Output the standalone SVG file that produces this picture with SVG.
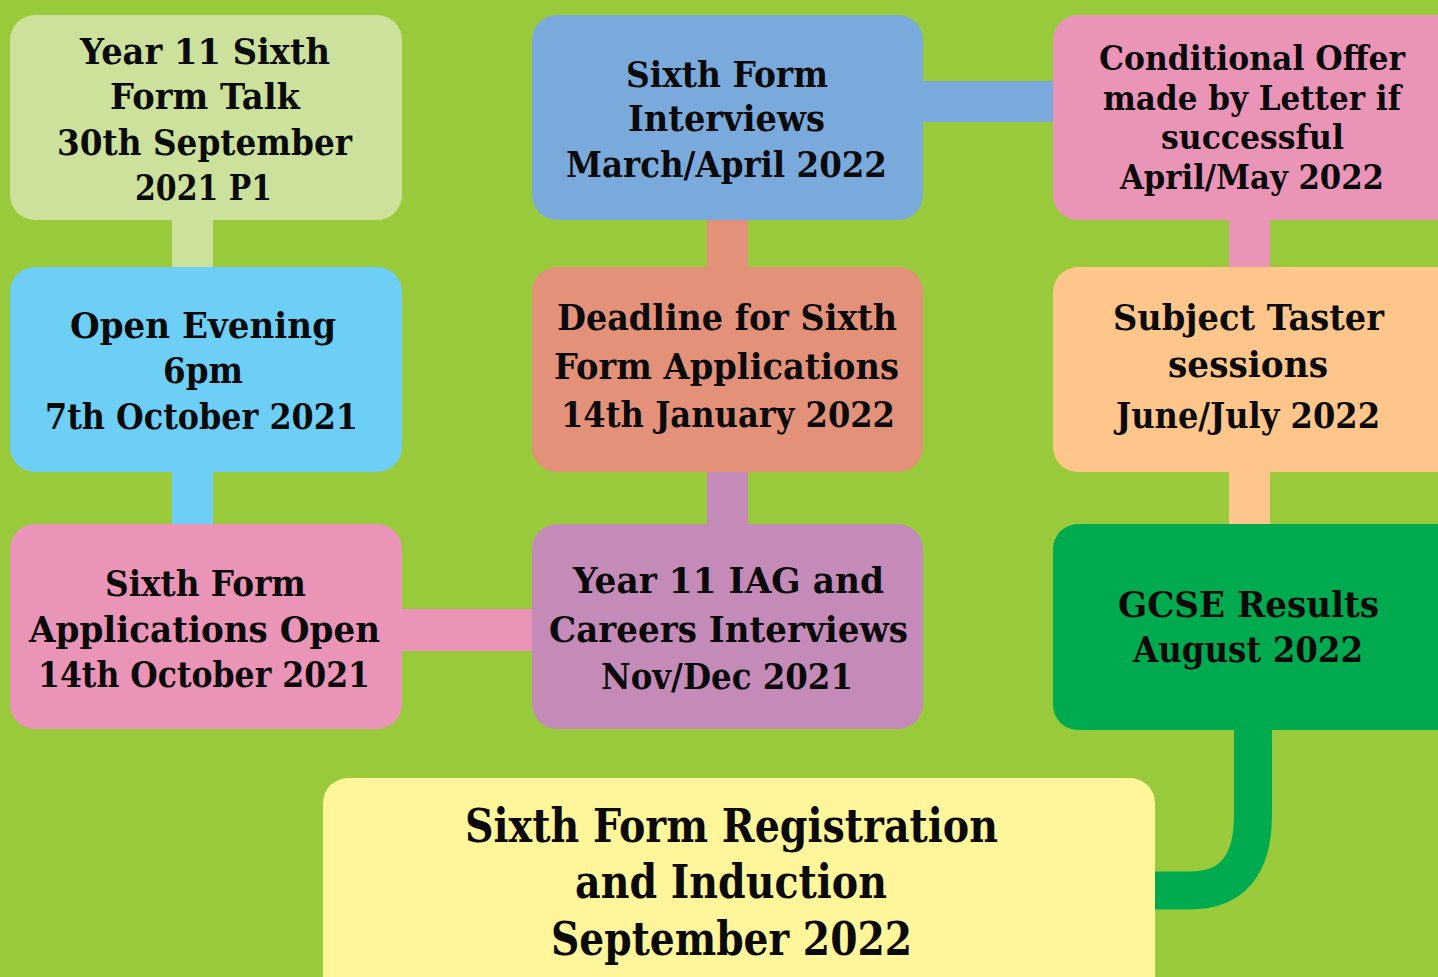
<svg xmlns="http://www.w3.org/2000/svg" width="1438" height="977" viewBox="0 0 1438 977">
<style>
.t{font-family:"DejaVu Serif","Liberation Serif",serif;font-weight:bold;font-size:35px;fill:#0a0a0a}
.s{font-size:33px}
.b{font-size:47px}
</style>
<rect x="0" y="0" width="1438" height="977" fill="#99ca3c"/>
<g id="connectors">
<rect x="172" y="210" width="41" height="67" fill="#cce19b"/>
<rect x="172" y="462" width="41" height="72" fill="#6dcff6"/>
<rect x="392" y="609" width="150" height="42" fill="#ea95b8"/>
<rect x="707" y="462" width="41" height="72" fill="#c48bb9"/>
<rect x="707" y="210" width="41" height="67" fill="#e4917a"/>
<rect x="913" y="81" width="150" height="41" fill="#7aaadc"/>
<rect x="1229" y="210" width="41" height="67" fill="#ea95b8"/>
<rect x="1229" y="462" width="41" height="72" fill="#fec68a"/>
<path d="M1253 720 V815 Q1253 890.5 1190 890.5 H1145" fill="none" stroke="#00ab4f" stroke-width="38"/>
</g>
<g id="n1"><rect x="10" y="15" width="392" height="205" rx="25" fill="#cce19b"/>
<text class="t" x="80" y="64" textLength="250" lengthAdjust="spacingAndGlyphs">Year 11 Sixth</text>
<text class="t" x="110" y="109" textLength="190" lengthAdjust="spacingAndGlyphs">Form Talk</text>
<text class="t" x="57" y="155" textLength="295" lengthAdjust="spacingAndGlyphs">30th September</text>
<text class="t" x="135" y="200" textLength="137" lengthAdjust="spacingAndGlyphs">2021 P1</text></g>
<g id="n2"><rect x="10" y="267" width="392" height="205" rx="25" fill="#6dcff6"/>
<text class="t" x="70" y="338" textLength="266" lengthAdjust="spacingAndGlyphs">Open Evening</text>
<text class="t" x="163" y="383" textLength="80" lengthAdjust="spacingAndGlyphs">6pm</text>
<text class="t" x="45" y="429" textLength="313" lengthAdjust="spacingAndGlyphs">7th October 2021</text></g>
<g id="n3"><rect x="10" y="524" width="392" height="205" rx="25" fill="#ea95b8"/>
<text class="t" x="105" y="596" textLength="201" lengthAdjust="spacingAndGlyphs">Sixth Form</text>
<text class="t" x="29" y="642" textLength="351" lengthAdjust="spacingAndGlyphs">Applications Open</text>
<text class="t" x="38" y="687" textLength="332" lengthAdjust="spacingAndGlyphs">14th October 2021</text></g>
<g id="n4"><rect x="532" y="15" width="391" height="205" rx="25" fill="#7aaadc"/>
<text class="t" x="626" y="87" textLength="202" lengthAdjust="spacingAndGlyphs">Sixth Form</text>
<text class="t" x="628" y="131" textLength="197" lengthAdjust="spacingAndGlyphs">Interviews</text>
<text class="t" x="566" y="177" textLength="321" lengthAdjust="spacingAndGlyphs">March/April 2022</text></g>
<g id="n5"><rect x="532" y="267" width="391" height="205" rx="25" fill="#e4917a"/>
<text class="t" x="557" y="330" textLength="340" lengthAdjust="spacingAndGlyphs">Deadline for Sixth</text>
<text class="t" x="554" y="379" textLength="345" lengthAdjust="spacingAndGlyphs">Form Applications</text>
<text class="t" x="561" y="427" textLength="334" lengthAdjust="spacingAndGlyphs">14th January 2022</text></g>
<g id="n6"><rect x="532" y="524" width="391" height="205" rx="25" fill="#c48bb9"/>
<text class="t" x="573" y="593" textLength="311" lengthAdjust="spacingAndGlyphs">Year 11 IAG and</text>
<text class="t" x="549" y="642" textLength="359" lengthAdjust="spacingAndGlyphs">Careers Interviews</text>
<text class="t" x="601" y="689" textLength="252" lengthAdjust="spacingAndGlyphs">Nov/Dec 2021</text></g>
<g id="n7"><rect x="1053" y="15" width="410" height="205" rx="25" fill="#ea95b8"/>
<text class="t s" x="1099" y="70" textLength="306" lengthAdjust="spacingAndGlyphs">Conditional Offer</text>
<text class="t s" x="1103" y="110" textLength="298" lengthAdjust="spacingAndGlyphs">made by Letter if</text>
<text class="t s" x="1161" y="149" textLength="183" lengthAdjust="spacingAndGlyphs">successful</text>
<text class="t s" x="1120" y="189" textLength="264" lengthAdjust="spacingAndGlyphs">April/May 2022</text></g>
<g id="n8"><rect x="1053" y="267" width="410" height="205" rx="25" fill="#fec68a"/>
<text class="t" x="1113" y="330" textLength="271" lengthAdjust="spacingAndGlyphs">Subject Taster</text>
<text class="t" x="1168" y="377" textLength="160" lengthAdjust="spacingAndGlyphs">sessions</text>
<text class="t" x="1116" y="428" textLength="264" lengthAdjust="spacingAndGlyphs">June/July 2022</text></g>
<g id="n9"><rect x="1053" y="524" width="410" height="206" rx="25" fill="#00ab4f"/>
<text class="t" x="1118" y="617" textLength="261" lengthAdjust="spacingAndGlyphs">GCSE Results</text>
<text class="t" x="1133" y="662" textLength="230" lengthAdjust="spacingAndGlyphs">August 2022</text></g>
<g id="n10"><rect x="323" y="778" width="832" height="230" rx="25" fill="#fff69c"/>
<text class="t b" x="465" y="842" textLength="533" lengthAdjust="spacingAndGlyphs">Sixth Form Registration</text>
<text class="t b" x="575" y="898" textLength="312" lengthAdjust="spacingAndGlyphs">and Induction</text>
<text class="t b" x="551" y="955" textLength="361" lengthAdjust="spacingAndGlyphs">September 2022</text></g>
</svg>
